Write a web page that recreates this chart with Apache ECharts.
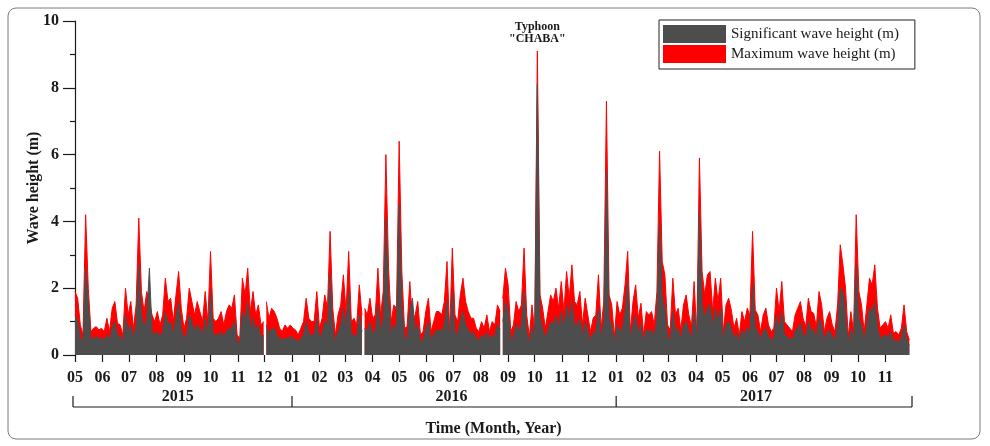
<!DOCTYPE html>
<html>
<head>
<meta charset="utf-8">
<script src="https://cdn.jsdelivr.net/npm/echarts@6/dist/echarts.min.js"></script>
<style>
  html, body { margin: 0; padding: 0; background: #fff; }
  #chart { width: 990px; height: 446px; }
</style>
</head>
<body>
<div id="chart"></div>
<script>
// samples every 3 days from 2015-05-01
const startDate = Date.UTC(2015, 4, 1);
const stepDays = 3;

const maxHeight = [
  1.9, 1.7, 0.9, 0.6, 4.2, 2.0, 0.7, 0.8, 0.85, 0.75,
  0.8, 0.7, 1.1, 0.7, 1.4, 1.6, 0.95, 0.9, 0.6, 2.0,
  1.2, 1.6, 0.8, 1.5, 4.1, 1.9, 1.3, 1.9, 1.6, 1.2,
  1.0, 1.3, 0.9, 1.2, 2.3, 1.6, 1.7, 1.0, 1.8, 2.5,
  1.4, 0.8, 1.1, 2.0, 1.6, 1.2, 1.6, 1.3, 1.0, 1.9,
  1.0, 3.1, 1.1, 1.0, 1.1, 1.3, 0.9, 1.3, 1.5, 1.4,
  1.8, 0.6, 0.5, 2.3, 1.8, 2.6, 1.3, 1.9, 1.2, 1.5,
  0.9, 1.0, 1.6, 1.1, 1.4, 1.3, 1.1, 0.8, 0.7, 0.9,
  0.8, 0.9, 0.8, 0.75, 0.6, 0.8, 1.0, 1.7, 1.1, 1.0,
  1.0, 1.9, 0.8, 1.1, 1.8, 1.4, 3.7, 1.4, 0.6, 1.2,
  1.5, 2.4, 1.3, 3.1, 1.0, 1.1, 0.9, 2.1, 1.2, 1.4,
  1.2, 1.7, 1.1, 1.2, 2.6, 1.2, 1.9, 6.0, 2.6, 1.0,
  1.5, 1.4, 6.4, 2.5, 0.8, 0.85, 2.2, 1.0, 1.2, 1.6,
  0.6, 0.7, 1.3, 1.7, 0.7, 1.0, 1.3, 1.3, 1.2, 1.6,
  2.8, 0.7, 3.2, 1.2, 1.0, 1.8, 2.3, 1.6, 1.3, 1.1,
  1.1, 0.8, 0.7, 1.0, 0.8, 1.2, 0.7, 1.0, 0.9, 1.5,
  1.3, 1.7, 2.6, 2.1, 0.7, 0.9, 1.6, 1.3, 1.5, 3.2,
  1.2, 0.55, 1.5, 0.7, 9.1, 1.8, 1.4, 0.8, 1.3, 1.8,
  1.6, 2.0, 1.4, 2.2, 1.3, 2.5, 1.7, 2.7, 1.6, 1.5,
  1.9, 0.9, 1.7, 1.2, 0.7, 1.1, 1.2, 2.4, 0.8, 1.6,
  7.6, 1.8, 1.5, 0.55, 1.6, 1.2, 1.4, 2.1, 3.1, 0.7,
  1.6, 2.1, 1.1, 1.55, 0.6, 1.3, 1.2, 1.3, 0.9, 1.9,
  6.1, 2.8, 2.4, 0.9, 0.75, 2.3, 1.2, 1.4, 0.75, 1.5,
  1.8, 1.2, 0.85, 2.2, 0.6, 5.9, 2.5, 1.8, 2.4, 2.5,
  1.3, 2.3, 1.6, 2.3, 0.7, 1.5, 1.7, 1.35, 0.8, 1.1,
  0.6, 1.3, 1.0, 1.4, 1.2, 3.7, 1.35, 1.2, 0.7, 1.2,
  1.4, 0.9, 0.7, 0.8, 2.0, 1.3, 2.2, 1.0, 0.9, 0.8,
  0.7, 1.2, 1.4, 1.6, 1.1, 0.85, 1.7, 1.3, 1.25, 0.85,
  1.9, 1.5, 0.7, 1.1, 1.3, 0.9, 0.7, 1.5, 3.3, 2.7,
  2.0, 0.55, 1.3, 0.7, 4.2, 1.9, 1.5, 0.7, 1.5, 2.3,
  2.1, 2.7, 1.4, 0.8, 0.9, 1.0, 0.8, 1.2, 0.65, 0.7,
  0.6, 0.8, 1.5, 0.7, 0.45
];

const sigHeight = [
  1.2, 1.0, 0.5, 0.4, 2.6, 1.6, 0.45, 0.5, 0.55, 0.5,
  0.5, 0.45, 0.6, 0.45, 0.8, 1.0, 0.6, 0.55, 0.4, 1.2,
  0.7, 0.9, 0.5, 0.9, 2.7, 1.2, 0.8, 1.1, 2.6, 0.7,
  0.6, 0.7, 0.55, 0.7, 1.3, 0.9, 1.0, 0.6, 1.1, 1.6,
  0.8, 0.5, 0.6, 1.2, 1.0, 0.7, 0.9, 0.8, 0.6, 1.1,
  0.6, 1.9, 0.6, 0.6, 0.6, 0.7, 0.55, 0.7, 0.8, 0.8,
  1.0, 0.4, 0.35, 1.3, 1.0, 1.6, 0.8, 1.1, 0.7, 0.9,
  0.5, 0.6, 0.9, 0.6, 0.8, 0.8, 0.6, 0.5, 0.45, 0.5,
  0.5, 0.55, 0.5, 0.45, 0.4, 0.5, 0.6, 1.0, 0.65, 0.6,
  0.6, 1.1, 0.5, 0.65, 1.0, 0.9, 2.4, 0.8, 0.4, 0.7,
  0.9, 1.4, 0.8, 1.9, 0.6, 0.6, 0.55, 1.2, 0.7, 0.8,
  0.7, 1.0, 0.65, 0.7, 1.5, 0.7, 1.1, 4.1, 1.6, 0.6,
  0.9, 0.8, 4.5, 1.5, 0.5, 0.5, 1.3, 1.7, 0.7, 0.9,
  0.4, 0.45, 0.75, 1.0, 0.45, 0.6, 0.75, 0.75, 0.7, 0.9,
  1.6, 0.45, 1.9, 0.7, 0.6, 1.0, 1.3, 0.9, 0.75, 0.65,
  0.65, 0.5, 0.45, 0.6, 0.5, 0.7, 0.45, 0.6, 0.55, 0.9,
  0.8, 1.0, 1.6, 1.3, 0.45, 0.55, 0.9, 0.75, 0.9, 1.9,
  0.7, 0.35, 0.85, 0.45, 8.1, 1.1, 0.8, 0.5, 0.75, 1.0,
  0.9, 1.2, 0.8, 1.3, 0.8, 1.5, 1.0, 1.6, 0.9, 0.9,
  1.1, 0.55, 1.0, 0.7, 0.45, 0.65, 0.7, 1.4, 0.5, 1.0,
  5.5, 1.1, 0.9, 0.35, 0.9, 0.7, 0.8, 1.3, 2.2, 0.45,
  0.9, 1.2, 0.65, 0.9, 0.4, 0.75, 0.7, 0.75, 0.55, 1.1,
  4.0, 1.7, 1.4, 0.55, 0.45, 1.3, 0.7, 0.8, 0.45, 0.9,
  1.0, 0.7, 0.5, 1.3, 0.4, 4.3, 1.5, 1.1, 1.4, 1.5,
  0.8, 1.4, 1.0, 1.4, 0.45, 0.9, 1.0, 0.8, 0.5, 0.65,
  0.4, 0.75, 0.6, 0.8, 0.7, 2.1, 0.8, 0.7, 0.45, 0.7,
  0.8, 0.55, 0.45, 0.5, 1.2, 0.75, 1.3, 0.6, 0.55, 0.5,
  0.45, 0.7, 0.8, 0.95, 0.65, 0.5, 1.0, 0.75, 0.75, 0.5,
  1.1, 0.9, 0.45, 0.65, 0.75, 0.55, 0.45, 0.9, 2.0, 1.9,
  1.2, 0.35, 0.75, 0.45, 2.7, 1.1, 0.9, 0.45, 0.9, 1.4,
  1.3, 1.6, 0.8, 0.5, 0.55, 0.6, 0.5, 0.7, 0.4, 0.45,
  0.4, 0.5, 0.9, 0.45, 0.3
];

// days with no record (break in the trace)
const missingDays = ['2015-12-01', '2016-03-20', '2016-08-24'];

const years = ['2015', '2016', '2017'];
const yearBounds = ['2015-05-01', '2016-01-01', '2017-01-01', '2017-12-01'];
const yearLabelAt = ['2015-08-25', '2016-06-29', '2017-06-08'];
const seriesNames = ['Significant wave height (m)', 'Maximum wave height (m)'];

const utc = (s) => { const p = s.split('-').map(Number); return Date.UTC(p[0], p[1] - 1, p[2]); };
const axisMin = utc(yearBounds[0]);
const axisMax = utc(yearBounds[yearBounds.length - 1]);

// month starts from May 2015 to Nov 2017
const monthTicks = [];
for (let t = axisMin; t < axisMax; ) {
  monthTicks.push(t);
  const d = new Date(t);
  t = Date.UTC(d.getUTCFullYear(), d.getUTCMonth() + 1, 1);
}

function toPairs(arr) {
  const pts = arr.map((v, i) => [startDate + i * stepDays * 864e5, v]);
  missingDays.forEach((d) => pts.push([utc(d), null]));
  return pts.sort((a, b) => a[0] - b[0]);
}

const serif = '"Liberation Serif", "Times New Roman", serif';
const ink = '#1a1a1a';

const chart = echarts.init(document.getElementById('chart'));
chart.setOption({
  animation: false,
  grid: { left: 75, right: 78, top: 21, bottom: 91, outerBoundsMode: 'none' },
  legend: {
    data: seriesNames,
    orient: 'vertical',
    left: 659,
    top: 20,
    icon: 'rect',
    itemWidth: 63,
    itemHeight: 18,
    itemGap: 2,
    padding: [5, 16, 6, 4],
    borderColor: '#222',
    borderWidth: 1,
    textStyle: { fontFamily: serif, fontSize: 15, color: ink },
  },
  xAxis: {
    type: 'value',
    min: axisMin,
    max: axisMax,
    axisLine: { show: false },
    axisTick: {
      show: true,
      customValues: monthTicks,
      length: 7,
      lineStyle: { color: ink, width: 1.2 },
    },
    axisLabel: {
      customValues: monthTicks,
      formatter: (v) => String(new Date(v).getUTCMonth() + 1).padStart(2, '0'),
      margin: 15,
      fontFamily: serif,
      fontWeight: 'bold',
      fontSize: 16,
      color: ink,
    },
    splitLine: { show: false },
    name: 'Time (Month, Year)',
    nameLocation: 'middle',
    nameGap: 66,
    nameMoveOverlap: false,
    nameTextStyle: { fontFamily: serif, fontWeight: 'bold', fontSize: 16, color: ink },
  },
  yAxis: {
    type: 'value',
    min: 0,
    max: 10,
    interval: 2,
    axisLine: { show: true, lineStyle: { color: ink, width: 1.2 } },
    axisTick: { show: true, length: 12, lineStyle: { color: ink, width: 1.2 } },
    minorTick: { show: true, splitNumber: 2, length: 5, lineStyle: { color: ink, width: 1.2 } },
    splitLine: { show: false },
    axisLabel: { margin: 16, fontFamily: serif, fontWeight: 'bold', fontSize: 16, color: ink },
    name: 'Wave height (m)',
    nameLocation: 'middle',
    nameGap: 33,
    nameMoveOverlap: false,
    nameTextStyle: { fontFamily: serif, fontWeight: 'bold', fontSize: 16, color: ink },
  },
  series: [
    {
      name: seriesNames[1],
      type: 'line',
      data: toPairs(maxHeight),
      showSymbol: false,
      color: '#ff0000',
      lineStyle: { width: 1, color: '#ff0000' },
      areaStyle: { color: '#ff0000', opacity: 1 },
      z: 2,
      markPoint: {
        symbol: 'circle',
        symbolSize: 0,
        data: [{ type: 'max' }],
        label: {
          show: true,
          position: 'top',
          distance: 6,
          formatter: 'Typhoon\n"CHABA"',
          fontFamily: serif,
          fontWeight: 'bold',
          fontSize: 12,
          lineHeight: 12,
          color: ink,
        },
      },
    },
    {
      name: seriesNames[0],
      type: 'line',
      data: toPairs(sigHeight),
      showSymbol: false,
      color: '#4d4d4d',
      lineStyle: { width: 1, color: '#4d4d4d' },
      areaStyle: { color: '#4d4d4d', opacity: 1 },
      z: 3,
    },
  ],
});

// year bracket under the month labels, placed with the axis scale
const bracketY = 407;
const px = (s) => chart.convertToPixel({ xAxisIndex: 0 }, utc(s));
const graphics = [
  {
    type: 'rect',
    silent: true,
    shape: { x: 8, y: 8, width: 972, height: 431, r: 8 },
    style: { fill: 'none', stroke: '#7a7a7a', lineWidth: 1 },
  },
  {
    type: 'line',
    silent: true,
    shape: { x1: px(yearBounds[0]) - 2, y1: bracketY, x2: px(yearBounds[3]), y2: bracketY },
    style: { stroke: ink, lineWidth: 1.2 },
  },
];
yearBounds.forEach((d) => {
  const x = px(d) - (d === yearBounds[0] ? 2 : 0);
  graphics.push({
    type: 'line',
    silent: true,
    shape: { x1: x, y1: bracketY, x2: x, y2: bracketY - 11 },
    style: { stroke: ink, lineWidth: 1.2 },
  });
});
years.forEach((y, k) => {
  graphics.push({
    type: 'text',
    silent: true,
    x: px(yearLabelAt[k]),
    y: 397,
    style: {
      text: y,
      font: 'bold 16px ' + serif,
      fill: ink,
      align: 'center',
      verticalAlign: 'middle',
    },
  });
});
chart.setOption({ graphic: graphics });
</script>
</body>
</html>
